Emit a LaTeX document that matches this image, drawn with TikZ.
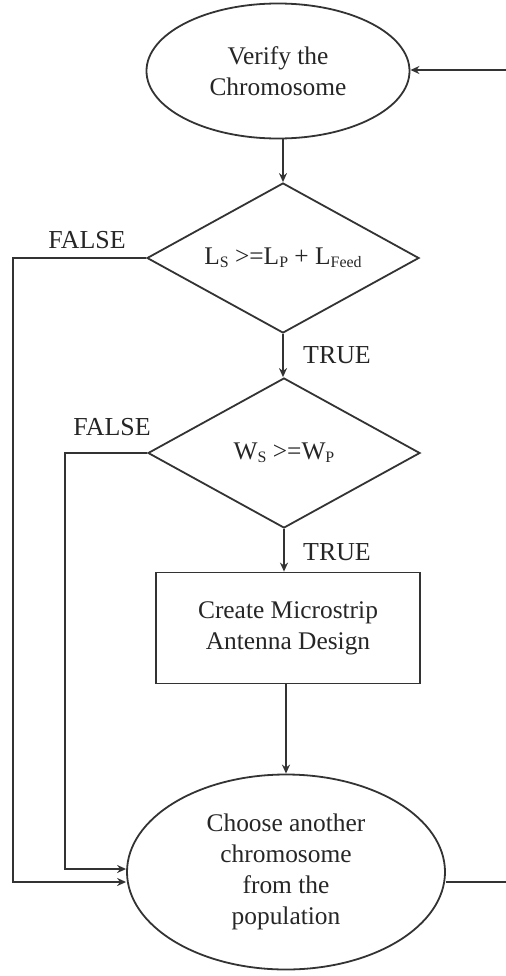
\documentclass[tikz,border=0pt]{standalone}
\usepackage{fontspec}
\setmainfont{Liberation Serif}
\usetikzlibrary{shapes.geometric,arrows.meta,calc}

% small lowered subscript used in the conditions
\newcommand{\lowsub}[1]{\raisebox{-0.12em}{\fontsize{16}{16}\selectfont #1}}

\tikzset{
  ink/.style={draw=black!80, line width=1.8bp},
  txt/.style={text=black!85, font=\fontsize{25.5}{31}\selectfont, align=center},
  oval/.style={ink, txt, ellipse, inner sep=0pt},
  decision/.style={ink, txt, diamond, inner sep=0pt, aspect=1.81,
                   minimum width=272bp, minimum height=150bp},
  process/.style={ink, txt, rectangle, inner sep=0pt,
                  minimum width=264bp, minimum height=111bp},
  flow/.style={ink, -{Stealth[length=9bp,width=8bp]}},
  plain/.style={ink},
  lbl/.style={text=black!85, font=\fontsize{26}{31}\selectfont, inner sep=0pt}
}

\begin{document}
\begin{tikzpicture}[x=1bp, y=-1bp]
  \useasboundingbox (0,0) rectangle (506,976);

  % nodes of the flow
  \node[oval, minimum width=263bp, minimum height=135bp] (verify) at (278,71)
        {Verify the\\Chromosome};
  \node[decision] (lencheck) at (283,258)
        {L\lowsub{S} >=L\lowsub{P} + L\lowsub{Feed}};
  \node[decision] (widcheck) at (284,453)
        {W\lowsub{S} >=W\lowsub{P}};
  \node[process] (create) at (288,628)
        {Create Microstrip\\Antenna Design};
  \node[oval, minimum width=318bp, minimum height=195bp] (choose) at (286,872)
        {Choose another\\chromosome\\from the\\population};

  % branch labels
  \node[lbl] (false1) at (87,240) {FALSE};
  \node[lbl] (true1)  at (337,355) {TRUE};
  \node[lbl] (false2) at (112,427) {FALSE};
  \node[lbl] (true2)  at (337,552) {TRUE};

  % free ends and corners of the return paths
  \coordinate (loopin)  at (506,70);
  \coordinate (loopout) at (506,882);
  \coordinate (outer)   at (13,882);
  \coordinate (inner)   at (65,869);

  % main vertical flow
  \draw[flow] (lencheck.north |- verify.south) -- (lencheck.north);
  \draw[flow] (lencheck.south) -- (lencheck.south |- widcheck.north);
  \draw[flow] (widcheck.south) -- (widcheck.south |- create.north);
  \draw[flow] (create.south -| choose.north) -- (choose.north);

  % FALSE branches to the lower oval
  \draw[flow] (lencheck.west) -| (outer) -- (outer -| choose.west);
  \draw[flow] (widcheck.west) -| (inner) -- (inner -| choose.west);

  % loop back along the right edge
  \draw[plain] (choose.east |- loopout) -- (loopout);
  \draw[flow] (loopin) -- (loopin -| verify.east);
\end{tikzpicture}
\end{document}
